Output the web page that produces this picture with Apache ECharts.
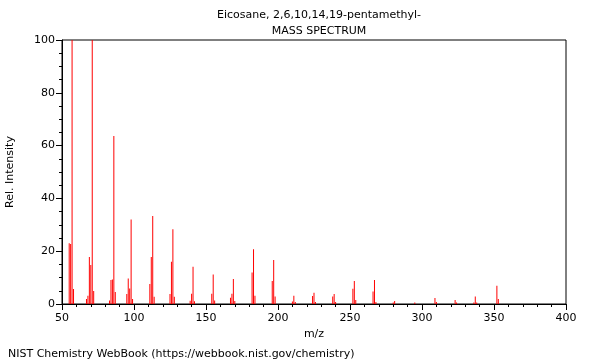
<!DOCTYPE html>
<html>
<head>
<meta charset="utf-8">
<script src="https://cdn.jsdelivr.net/npm/echarts@6/dist/echarts.min.js"></script>
<style>
html,body{margin:0;padding:0;background:#fff;}
#chart{width:600px;height:360px;}
</style>
</head>
<body>
<div id="chart"></div>
<script>
// m/z values and relative intensities
const mz = [55,56,57,58, 67,68,69,70,71,72, 83,84,85,86,87, 95,96,97,98,99,
  111,112,113,114, 125,126,127,128, 139,140,141,142, 154,155,156,
  167,168,169,170, 182,183,184, 196,197,198, 210,211,212, 224,225,226,
  238,239,240, 252,253,254, 266,267,268, 280,281, 295, 309,310, 323,324,
  336,337,338, 352,353];
const intensity = [23,22.7,100,5.7, 1.9,3.1,17.8,14.8,100,4.9, 1.3,9.1,9.3,63.6,4.5, 3.8,9.7,5.9,32,1.9,
  7.6,17.8,33.3,2.7, 3.8,16,28.3,2.7, 1.2,3.9,14.1,1, 3.9,11.2,1.3,
  2.4,3.9,9.5,1.1, 11.9,20.7,3.1, 8.7,16.7,2.8, 0.9,3.1,0.8, 3,4.3,0.8,
  2.8,3.8,0.8, 5.8,8.7,1.5, 4.7,9.1,0.8, 0.6,1.1, 0.6, 2.3,0.8, 1.5,0.6,
  0.6,2.8,0.6, 6.9,1.9];
const titleLines = ['Eicosane, 2,6,10,14,19-pentamethyl-', 'MASS SPECTRUM'];
const xLabel = 'm/z';
const yLabel = 'Rel. Intensity';
const footer = 'NIST Chemistry WebBook (https://webbook.nist.gov/chemistry)';

const chart = echarts.init(document.getElementById('chart'), null, {renderer:'canvas'});
const font = 'DejaVu Sans';
chart.setOption({
  animation:false,
  backgroundColor:'#fff',
  textStyle:{fontFamily:font},
  title:[
    {text:titleLines[0], left:314, top:5, textAlign:'center',
     textStyle:{fontSize:11, fontWeight:'normal', color:'#000', fontFamily:font}},
    {text:titleLines[1], left:314, top:21, textAlign:'center',
     textStyle:{fontSize:11, fontWeight:'normal', color:'#000', fontFamily:font}},
    {text:footer, left:3, top:344,
     textStyle:{fontSize:11, fontWeight:'normal', color:'#000', fontFamily:font}}
  ],
  grid:{left:62, right:34, top:40, bottom:56, show:true, borderColor:'#000', borderWidth:1,
        containLabel:false, outerBoundsMode:'none'},
  xAxis:{
    type:'value', min:50, max:400, interval:50,
    name:xLabel, nameLocation:'middle', nameGap:25,
    nameTextStyle:{fontSize:11, color:'#000', fontFamily:font},
    axisLine:{show:true, lineStyle:{color:'#000'}},
    axisTick:{show:true, length:6, lineStyle:{color:'#000'}},
    minorTick:{show:true, splitNumber:5, length:3, lineStyle:{color:'#000'}},
    axisLabel:{fontSize:11, color:'#000', margin:9, fontFamily:font},
    splitLine:{show:false}
  },
  yAxis:{
    type:'value', min:0, max:100, interval:20,
    name:yLabel, nameLocation:'middle', nameGap:46, nameRotate:90,
    nameTextStyle:{fontSize:11, color:'#000', fontFamily:font},
    axisLine:{show:true, lineStyle:{color:'#000'}},
    axisTick:{show:true, length:6, lineStyle:{color:'#000'}},
    minorTick:{show:true, splitNumber:4, length:3, lineStyle:{color:'#000'}},
    axisLabel:{fontSize:11, color:'#000', margin:7, fontFamily:font},
    splitLine:{show:false}
  },
  series:[{
    type:'bar',
    barWidth:1,
    itemStyle:{color:'#ff0000'},
    data: mz.map((m,i)=>[m, intensity[i]])
  }]
});
</script>
</body>
</html>
